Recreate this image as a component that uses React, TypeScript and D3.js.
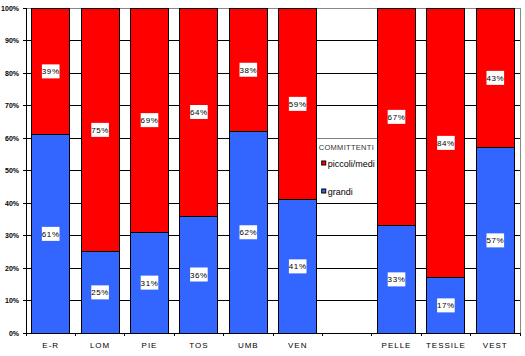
import React from "react";
import * as d3 from "d3";

const categories = ["E-R", "LOM", "PIE", "TOS", "UMB", "VEN", " ", "PELLE", "TESSILE", "VEST"];
const grandi: (number | null)[] = [61, 25, 31, 36, 62, 41, null, 33, 17, 57];
const piccoli: (number | null)[] = [39, 75, 69, 64, 38, 59, null, 67, 84, 43];
const yTicks = [0, 10, 20, 30, 40, 50, 60, 70, 80, 90, 100];
const legendTitle = "COMMITTENTI";
const seriesNames = ["piccoli/medi", "grandi"];

const W = 525;
const H = 356;
const RED = "#FF0000";
const BLUE = "#3366FF";
const FONT = "Liberation Sans, Arial, sans-serif";

export default function App() {
  const x = d3.scaleBand<string>().domain(categories).range([26, 520]).paddingInner(0.23).paddingOuter(0.115);
  const y = d3.scaleLinear().domain([0, 100]).range([333, 8]);
  const bw = x.bandwidth();
  const step = x.step();
  const x0 = 26;

  const legendX0 = (x(categories[5]) as number) + bw;
  const legendX1 = x(categories[7]) as number;

  const label = (cx: number, cy: number, txt: string, key: string) => {
    const w = txt.length * 5.2 + 2;
    return (
      <g key={key}>
        <rect x={cx - w / 2} y={cy - 7} width={w} height={14} fill="#fff" />
        <text x={cx} y={cy + 3} textAnchor="middle" fontSize={8} fontFamily={FONT} fill="#000" letterSpacing={0.6}>
          {txt}
        </text>
      </g>
    );
  };

  return (
    <svg width={W} height={H} style={{ position: "absolute", left: 0, top: 0, background: "#fff" }}>
      <rect x={0} y={0} width={W} height={H} fill="#fff" />
      {/* gridlines */}
      {yTicks.map((t) => (
        <line key={"g" + t} x1={x0} x2={520} y1={y(t)} y2={y(t)} stroke={t === 100 ? "#888" : "#000"} strokeWidth={1} shapeRendering="crispEdges" />
      ))}
      {/* right border */}
      <line x1={520} x2={520} y1={y(100)} y2={y(0)} stroke="#888" strokeWidth={1} shapeRendering="crispEdges" />
      {/* legend background */}
      <rect x={legendX0} y={y(60) + 0.5} width={legendX1 - legendX0} height={y(41) - y(60)} fill="#fff" />
      {/* bars */}
      {categories.map((c, i) => {
        const g = grandi[i];
        const p = piccoli[i];
        if (g == null || p == null) return null;
        const bx = x(c) as number;
        return (
          <g key={"b" + c}>
            <rect x={bx} y={y(g)} width={bw} height={y(0) - y(g)} fill={BLUE} stroke="#000" strokeWidth={1} shapeRendering="crispEdges" />
            <rect x={bx} y={y(100)} width={bw} height={y(g) - y(100)} fill={RED} stroke="#000" strokeWidth={1} shapeRendering="crispEdges" />
          </g>
        );
      })}
      {/* value labels */}
      {categories.map((c, i) => {
        const g = grandi[i];
        const p = piccoli[i];
        if (g == null || p == null) return null;
        const cx = (x(c) as number) + bw / 2;
        return (
          <g key={"l" + c}>
            {label(cx, y(g / 2), g + "%", "lg" + c)}
            {label(cx, y(g + (100 - g) / 2), p + "%", "lp" + c)}
          </g>
        );
      })}
      {/* y axis */}
      <line x1={x0} x2={x0} y1={y(100)} y2={y(0)} stroke="#000" strokeWidth={1} shapeRendering="crispEdges" />
      {yTicks.map((t) => (
        <g key={"yt" + t}>
          <line x1={x0 - 3} x2={x0} y1={y(t)} y2={y(t)} stroke="#000" shapeRendering="crispEdges" />
          <text x={19} y={y(t) + 2.5} textAnchor="end" fontSize={7} fontWeight="bold" fontFamily={FONT} fill="#000">
            {t + "%"}
          </text>
        </g>
      ))}
      {/* x axis */}
      <line x1={x0} x2={520} y1={y(0)} y2={y(0)} stroke="#000" strokeWidth={1} shapeRendering="crispEdges" />
      {d3.range(categories.length + 1).map((i) => (
        <line key={"xt" + i} x1={x0 + i * step} x2={x0 + i * step} y1={y(0)} y2={y(0) + 3} stroke="#000" shapeRendering="crispEdges" />
      ))}
      {categories.map((c) => (
        <text key={"xl" + c} x={(x(c) as number) + bw / 2} y={348} textAnchor="middle" fontSize={8} fontFamily={FONT} fill="#000" letterSpacing={1}>
          {c}
        </text>
      ))}
      {/* legend */}
      <text x={legendX0 + 2} y={150} fontSize={7.5} fontFamily={FONT} fill="#333" letterSpacing={0.3}>
        {legendTitle}
      </text>
      <rect x={legendX0 + 5} y={161} width={4} height={4} fill={RED} stroke="#000" strokeWidth={1} />
      <text x={legendX0 + 11} y={167} fontSize={9} fontFamily={FONT} fill="#000">
        {seriesNames[0]}
      </text>
      <rect x={legendX0 + 5} y={189} width={4} height={4} fill={BLUE} stroke="#000" strokeWidth={1} />
      <text x={legendX0 + 11} y={195} fontSize={9} fontFamily={FONT} fill="#000">
        {seriesNames[1]}
      </text>
    </svg>
  );
}
